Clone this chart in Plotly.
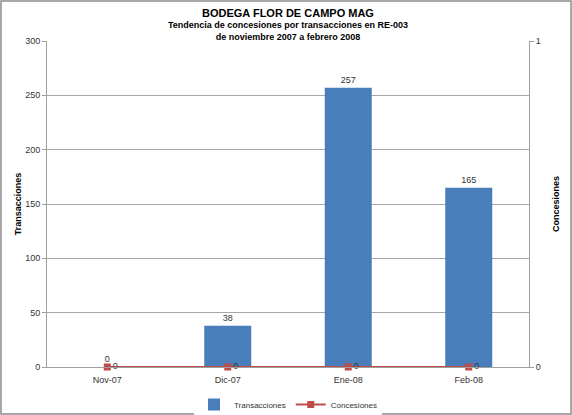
import plotly.graph_objects as go

categories = ["Nov-07", "Dic-07", "Ene-08", "Feb-08"]
transacciones = [0, 38, 257, 165]
concesiones = [0, 0, 0, 0]

W, H = 572, 415
L, R, T, B = 47, 43, 41, 48
pw, ph = W - L - R, H - T - B

font_main = "Liberation Sans Narrow, Liberation Sans, Arial"

fig = go.Figure()
fig.add_trace(go.Bar(
    x=categories, y=transacciones, name="Transacciones",
    marker=dict(color="#4A7EBB", line=dict(width=0)),
    width=0.39,
    text=[str(v) for v in transacciones], textposition="outside",
    textfont=dict(size=9, color="#333333", family=font_main),
    cliponaxis=False,
))
fig.add_trace(go.Scatter(
    x=categories, y=concesiones, name="Concesiones", yaxis="y2",
    mode="lines+markers+text",
    line=dict(color="#BE4B48", width=2),
    marker=dict(symbol="square", size=7, color="#BE4B48"),
    text=[str(v) for v in concesiones], textposition="middle right",
    textfont=dict(size=9, color="#333333", family=font_main),
    cliponaxis=False,
))

fig.update_layout(
    width=W, height=H,
    margin=dict(l=L, r=R, t=T, b=B, autoexpand=False),
    paper_bgcolor="white", plot_bgcolor="white",
    font=dict(family=font_main, size=9, color="#333333"),
    showlegend=True,
    legend=dict(orientation="h", x=0.5, xanchor="center", y=-(23 / ph), yanchor="top",
                font=dict(size=8, color="#333333", family=font_main),
                traceorder="normal", itemwidth=30),
    xaxis=dict(showgrid=False, showline=True, linecolor="#A0A0A0", linewidth=1,
               ticks="", tickfont=dict(size=9, color="#333333"), fixedrange=True,
               automargin=False, ticklabelstandoff=4),
    yaxis=dict(range=[0, 300], dtick=50, showgrid=True, gridcolor="#A8A8A8", gridwidth=1,
               showline=True, linecolor="#A0A0A0", ticks="outside", ticklen=4,
               tickcolor="#A0A0A0", tickfont=dict(size=9, color="#333333"),
               title=dict(text="<b>Transacciones</b>", font=dict(size=9, color="#000000"), standoff=2),
               zeroline=False, automargin=False),
    yaxis2=dict(range=[0, 1], dtick=1, overlaying="y", side="right", showgrid=False,
                showline=True, linecolor="#A0A0A0", ticks="outside", ticklen=4,
                tickcolor="#A0A0A0", tickfont=dict(size=9, color="#333333"),
                title=dict(text="<b>Concesiones</b>", font=dict(size=9, color="#000000"), standoff=12),
                zeroline=False, automargin=False),
)

fig.add_annotation(text="<b>BODEGA FLOR DE CAMPO MAG</b>", xref="paper", yref="paper",
                   x=0.5, y=1 + 28 / ph, xanchor="center", yanchor="middle", showarrow=False,
                   font=dict(size=11, color="#000000", family=font_main))
fig.add_annotation(text="<b>Tendencia de concesiones por transacciones en RE-003<br>de noviembre 2007 a febrero 2008</b>",
                   xref="paper", yref="paper", x=0.5, y=1 + 10 / ph, xanchor="center", yanchor="middle",
                   showarrow=False, font=dict(size=9, color="#000000", family=font_main))

# outer chart border
fig.add_shape(type="rect", xref="paper", yref="paper",
              x0=-(L - 1) / pw, x1=1 + (R - 1) / pw, y0=-(B - 1) / ph, y1=1 + (T - 1) / ph,
              line=dict(color="#8C8C8C", width=1.5), fillcolor="rgba(0,0,0,0)", layer="below")

fig.write_html("out.html", config={"displayModeBar": False},
               post_script="document.body.style.margin='0';document.body.style.overflow='hidden';")
